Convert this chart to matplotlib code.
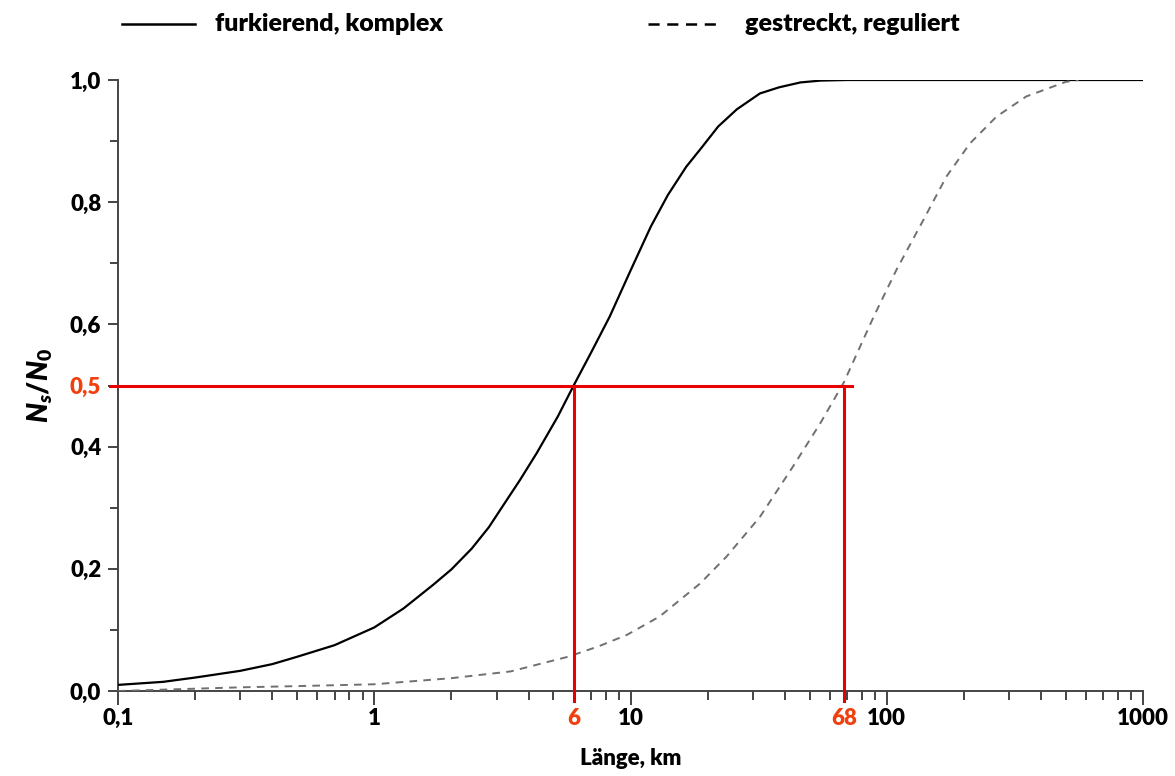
import matplotlib
matplotlib.use("Agg")
import matplotlib.pyplot as plt
from matplotlib.lines import Line2D

plt.rcParams['font.family'] = ['Lato', 'DejaVu Sans']
plt.rcParams['font.weight'] = 'heavy'
plt.rcParams['lines.scale_dashes'] = False
plt.rcParams['mathtext.fontset'] = 'custom'
plt.rcParams['mathtext.it'] = 'Lato:italic:heavy'
plt.rcParams['mathtext.rm'] = 'Lato:heavy'

# ---- data ----
solid_x = [0.1, 0.15, 0.2, 0.3, 0.4, 0.5, 0.7, 1.0, 1.3, 1.7, 2.0, 2.4, 2.8, 3.2, 3.7,
           4.3, 5.2, 6.0, 7.0, 8.3, 10, 12, 14, 16.5, 19, 22, 26, 32, 38, 46, 55, 70,
           1000]
solid_y = [0.010, 0.015, 0.022, 0.033, 0.044, 0.056, 0.075, 0.104, 0.135, 0.174, 0.199,
           0.233, 0.268, 0.305, 0.345, 0.389, 0.449, 0.500, 0.553, 0.613, 0.688, 0.760,
           0.812, 0.858, 0.890, 0.924, 0.952, 0.978, 0.988, 0.996, 0.999, 1.000, 1.000]

dash_x = [0.1, 0.3, 0.5, 1.0, 2.0, 3.4, 5.7, 7.5, 9.7, 13, 18.7, 23.7, 32, 43, 55, 68,
          89, 109, 139, 171, 211, 268, 350, 500, 560]
dash_y = [0.000, 0.006, 0.008, 0.011, 0.021, 0.032, 0.056, 0.073, 0.092, 0.122, 0.176,
          0.220, 0.285, 0.367, 0.438, 0.505, 0.613, 0.689, 0.771, 0.842, 0.896, 0.940,
          0.973, 0.997, 1.000]

series_labels = ["furkierend, komplex", "gestreckt, reguliert"]
half_value = 0.5
x_half = [6, 68]
x_tick_vals = [0.1, 1, 10, 100, 1000]
x_tick_labels = ["0,1", "1", "10", "100", "1000"]
y_tick_vals = [0.0, 0.2, 0.4, 0.6, 0.8, 1.0]
y_tick_labels = ["0,0", "0,2", "0,4", "0,6", "0,8", "1,0"]
y_minor_vals = [0.1, 0.3, 0.7, 0.9]

RED_LINE = '#e80000'
RED_TEXT = '#f0400f'
AXC = '#444444'

fig = plt.figure(figsize=(11.75, 7.76), dpi=100)
ax = fig.add_axes([118/1175, 1-691/776, (1143-118)/1175, (691-80)/776])

ax.plot(solid_x, solid_y, color='black', lw=1.6, solid_capstyle='butt', zorder=3)
ax.plot(dash_x, dash_y, color='#707070', lw=1.4, dashes=(5.5, 4.5), zorder=3)

# red reference lines
ax.plot([x_tick_vals[0] / 1.075, x_half[1] * 1.08], [half_value, half_value],
        color=RED_LINE, lw=2.2, clip_on=False, zorder=4)
for xv in x_half:
    ax.plot([xv, xv], [half_value, -0.016], color=RED_LINE, lw=2.2,
            clip_on=False, zorder=4)

ax.set_xscale('log')
ax.set_xlim(0.1, 1000)
ax.set_ylim(0, 1)

for s in ['top', 'right']:
    ax.spines[s].set_visible(False)
for s in ['left', 'bottom']:
    ax.spines[s].set_color(AXC)
    ax.spines[s].set_linewidth(1.4)

TICK_FS = 16

# x ticks
xt = x_tick_vals + x_half
xl = x_tick_labels + [str(v) for v in x_half]
ax.set_xticks(xt)
ax.set_xticklabels(xl)
ax.tick_params(axis='x', which='major', length=10, width=1.4, color=AXC, pad=2,
               labelsize=TICK_FS)
ax.tick_params(axis='x', which='minor', length=6.5, width=1.4, color=AXC)
for tick, v in zip(ax.xaxis.get_major_ticks(), xt):
    if v in x_half:
        tick.tick1line.set_visible(False)
        tick.label1.set_color(RED_TEXT)

# y ticks
yt = y_tick_vals + [half_value]
yl = y_tick_labels + ["0,5"]
ax.set_yticks(yt)
ax.set_yticklabels(yl)
ax.set_yticks(y_minor_vals, minor=True)
ax.tick_params(axis='y', which='major', length=7, width=1.4, color=AXC, pad=5,
               labelsize=TICK_FS)
ax.tick_params(axis='y', which='minor', length=6, width=1.4, color=AXC)
for tick, v in zip(ax.yaxis.get_major_ticks(), yt):
    if v == half_value:
        tick.label1.set_color(RED_TEXT)

for lab in ax.get_xticklabels() + ax.get_yticklabels():
    lab.set_fontweight('heavy')

ax.set_xlabel("Länge, km", fontsize=16, fontweight='heavy', labelpad=14)
fig.text(40/1175, 1-385/776, r'$N_s/N_{\mathit{0}}$', rotation=90, ha='center',
         va='center', fontsize=20)

# legend (manual, at top)
ly = 1 - 24/776
fig.add_artist(Line2D([122/1175, 195/1175], [ly, ly], color='black', lw=1.8))
fig.add_artist(Line2D([648/1175, 718/1175], [ly, ly], color='black', lw=1.8,
                      dashes=(8, 5.5)))
fig.text(215/1175, ly, series_labels[0], fontsize=18, fontweight='heavy',
         ha='left', va='center')
fig.text(745/1175, ly, series_labels[1], fontsize=18, fontweight='heavy',
         ha='left', va='center')

fig.savefig("out.png", dpi=100)
